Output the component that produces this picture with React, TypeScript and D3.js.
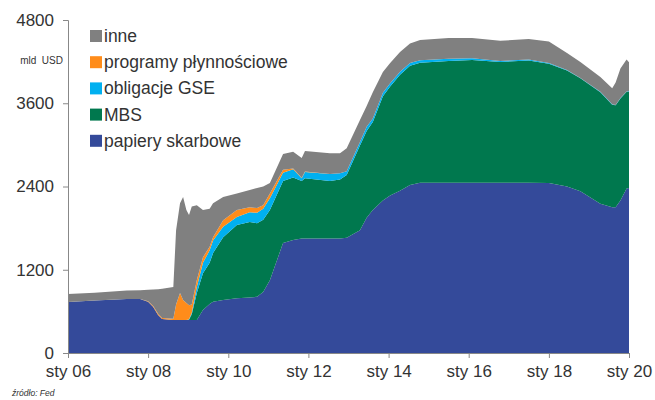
import { useEffect, useRef } from "react";
import * as d3 from "d3";

// stacked Fed balance sheet, mld USD
const dates = [
  "2006-01-01", "2006-09-01", "2007-06-20", "2007-10-20", "2008-01-01",
  "2008-02-15", "2008-04-01", "2008-05-08", "2008-08-18", "2008-09-12",
  "2008-10-18", "2008-11-15", "2008-12-15", "2009-01-08", "2009-02-02",
  "2009-03-20", "2009-05-15", "2009-07-15", "2009-08-15", "2009-11-15",
  "2010-03-20", "2010-07-15", "2010-09-20", "2010-11-15", "2011-01-15",
  "2011-05-15", "2011-08-15", "2011-11-01", "2011-12-01", "2012-07-15",
  "2012-10-15", "2012-12-15", "2013-04-15", "2013-06-15", "2013-08-10",
  "2013-11-10", "2014-01-15", "2014-04-15", "2014-07-15", "2014-10-15",
  "2015-07-01", "2016-02-01", "2016-10-15", "2017-07-01", "2018-01-01",
  "2018-06-15", "2018-10-15", "2019-04-15", "2019-08-01", "2019-09-01",
  "2019-10-15", "2019-12-10", "2020-01-01",
];

const papierySkarbowe = [
  735, 755, 778, 778, 740, 667, 548, 490, 475, 475,
  475, 475, 475, 475, 475, 475, 620, 705, 740, 765,
  790, 800, 810, 880, 1050, 1585, 1630, 1650, 1650, 1650,
  1650, 1660, 1770, 1950, 2060, 2200, 2270, 2340, 2420, 2455,
  2455, 2455, 2455, 2455, 2450, 2400, 2330, 2150, 2100, 2100,
  2200, 2370, 2380,
];

const mbs = [
  0, 0, 0, 0, 0, 0, 0, 0, 0, 0,
  0, 0, 0, 5, 85, 390, 530, 595, 700, 905,
  1055, 1090, 1060, 1040, 1010, 895, 900, 830, 870, 830,
  850, 905, 1220, 1250, 1270, 1500, 1570, 1670, 1720, 1730,
  1755, 1770, 1740, 1760, 1720, 1672, 1630, 1610, 1480, 1470,
  1470, 1395, 1390,
];

const obligacjeGSE = [
  0, 0, 0, 0, 0, 0, 0, 0, 0, 0,
  0, 0, 0, 5, 20, 85, 150, 180, 180, 150,
  115, 140, 150, 160, 170, 120, 120, 40, 90, 100,
  90, 55, 50, 60, 50, 50, 50, 45, 40, 35,
  30, 25, 15, 15, 10, 8, 5, 5, 5, 5,
  5, 5, 5,
];

const programyPlynnosciowe = [
  0, 0, 0, 0, 5, 13, 17, 15, 20, 225,
  390, 290, 245, 205, 120, 100, 80, 50, 50, 95,
  100, 70, 70, 50, 70, 40, 10, 5, 5, 0,
  0, 0, 0, 0, 0, 0, 0, 0, 0, 0,
  0, 0, 0, 0, 0, 0, 0, 0, 0, 0,
  0, 0, 0,
];

const inne = [
  115, 115, 122, 127, 165, 235, 355, 420, 455, 1070,
  1295, 1485, 1340, 1300, 1410, 1080, 680, 550, 490, 335,
  240, 250, 290, 270, 150, 230, 240, 285, 295, 300,
  290, 330, 320, 300, 380, 300, 290, 285, 280, 290,
  300, 290, 290, 295, 310, 245, 230, 215, 230, 325,
  425, 460, 415,
];

const yTicks = [0, 1200, 2400, 3600, 4800];
const xTickYears = [2006, 2008, 2010, 2012, 2014, 2016, 2018, 2020];

const series = [
  { key: "papiery", label: "papiery skarbowe", color: "#344a9a", values: papierySkarbowe },
  { key: "mbs", label: "MBS", color: "#00784e", values: mbs },
  { key: "gse", label: "obligacje GSE", color: "#00b0f0", values: obligacjeGSE },
  { key: "prog", label: "programy płynnościowe", color: "#ff8c1a", values: programyPlynnosciowe },
  { key: "inne", label: "inne", color: "#808080", values: inne },
];

const W = 655;
const H = 400;
const FONT = "'Liberation Sans', Arial, sans-serif";

export default function App() {
  const svgRef = useRef<SVGSVGElement | null>(null);

  useEffect(() => {
    if (!svgRef.current) return;
    const svg = d3.select(svgRef.current);
    svg.selectAll("*").remove();

    const margin = { top: 20, right: 26, bottom: 47, left: 68 };

    const rows = dates.map((d, i) => {
      const r: any = { date: new Date(d) };
      series.forEach((s) => (r[s.key] = s.values[i]));
      return r;
    });

    const x = d3
      .scaleTime()
      .domain([new Date(2006, 0, 1), new Date(2020, 0, 1)])
      .range([margin.left, W - margin.right]);

    const y = d3
      .scaleLinear()
      .domain([0, 4800])
      .range([H - margin.bottom, margin.top]);

    const stacked = d3.stack<any>().keys(series.map((s) => s.key))(rows);

    const area = d3
      .area<any>()
      .x((d) => x(d.data.date))
      .y0((d) => y(d[0]))
      .y1((d) => y(d[1]));

    svg
      .append("g")
      .selectAll("path")
      .data(stacked)
      .join("path")
      .attr("fill", (_d, i) => series[i].color)
      .attr("d", area as any);

    // y axis
    const yAxis = svg
      .append("g")
      .attr("transform", `translate(${margin.left},0)`)
      .call(d3.axisLeft(y).tickValues(yTicks).tickSize(5).tickPadding(9).tickFormat(d3.format("d")));
    yAxis.select(".domain").attr("stroke", "#888");
    yAxis.selectAll(".tick line").attr("stroke", "#888");
    yAxis
      .selectAll("text")
      .attr("fill", "#333")
      .attr("font-size", 17)
      .attr("font-family", FONT);

    // x axis
    const xAxis = svg
      .append("g")
      .attr("transform", `translate(0,${H - margin.bottom})`)
      .call(
        d3
          .axisBottom(x)
          .tickValues(xTickYears.map((yr) => new Date(yr, 0, 1)))
          .tickSize(5)
          .tickPadding(7)
          .tickFormat((d: any) => `sty ${String(d.getFullYear()).slice(2)}`)
      );
    xAxis.select(".domain").attr("stroke", "#888");
    xAxis.selectAll(".tick line").attr("stroke", "#888");
    xAxis
      .selectAll("text")
      .attr("fill", "#333")
      .attr("font-size", 17)
      .attr("font-family", FONT);

    svg
      .append("text")
      .attr("x", 63)
      .attr("y", 64)
      .attr("text-anchor", "end")
      .attr("font-size", 10)
      .attr("font-family", FONT)
      .attr("fill", "#333")
      .attr("xml:space", "preserve")
      .text("mld  USD");

    // legend
    const legendOrder = [...series].reverse();
    const legend = svg.append("g").attr("transform", "translate(90,36)");
    legendOrder.forEach((s, i) => {
      const row = legend.append("g").attr("transform", `translate(0,${i * 26.2})`);
      row
        .append("rect")
        .attr("x", 0)
        .attr("y", -6)
        .attr("width", 12)
        .attr("height", 12)
        .attr("fill", s.color);
      row
        .append("text")
        .attr("x", 14)
        .attr("y", 6)
        .attr("font-size", 17.5)
        .attr("font-family", FONT)
        .attr("fill", "#333")
        .text(s.label);
    });

    svg
      .append("text")
      .attr("x", 12)
      .attr("y", 396)
      .attr("font-size", 8.5)
      .attr("font-style", "italic")
      .attr("font-family", FONT)
      .attr("fill", "#333")
      .text("źródło: Fed");
  }, []);

  return (
    <svg
      ref={svgRef}
      width={W}
      height={H}
      style={{ position: "absolute", left: 0, top: 0, background: "#fff" }}
    ></svg>
  );
}
